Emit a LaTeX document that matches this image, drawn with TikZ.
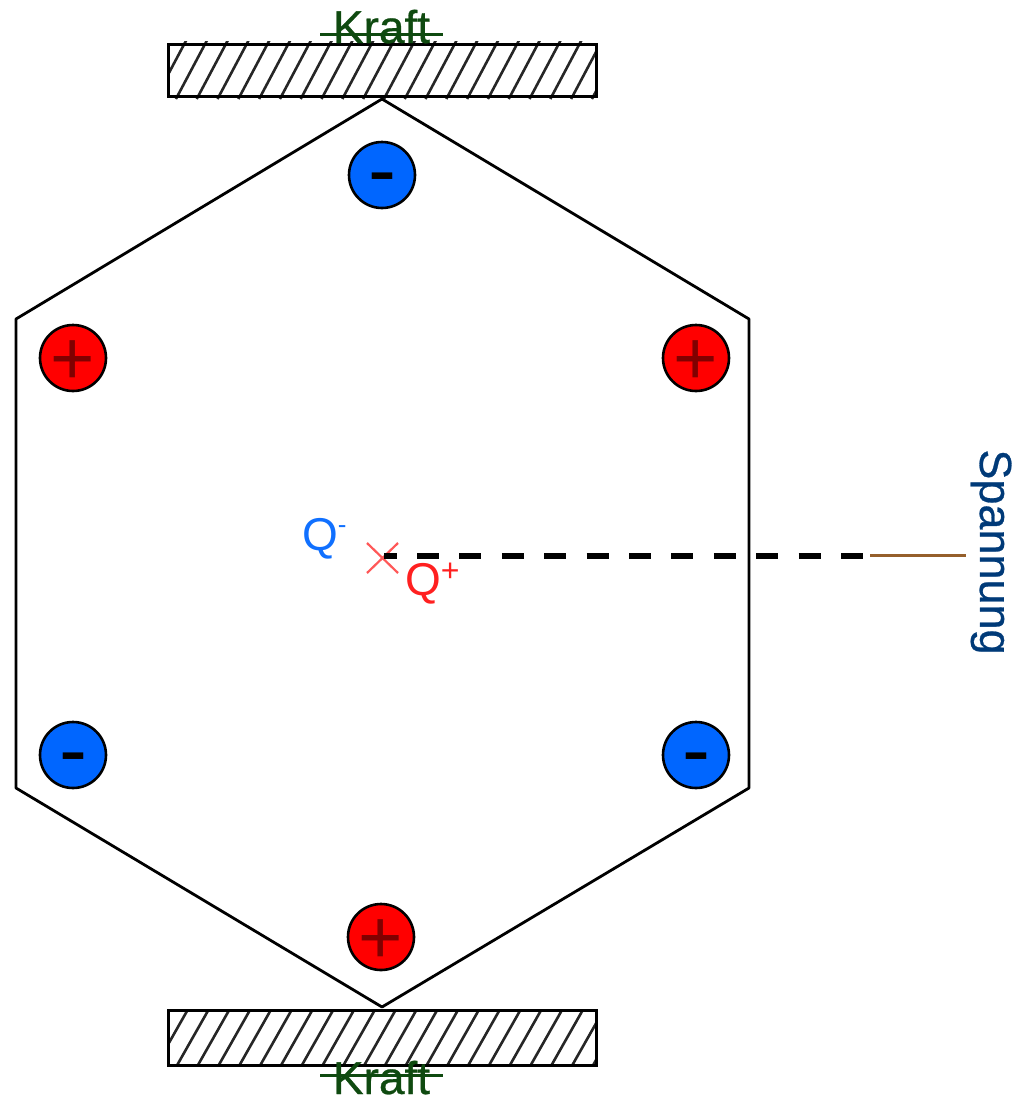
\documentclass[tikz,border=0pt]{standalone}
\usepackage{fontspec}
\newfontfamily\ls{Liberation Sans}
\newfontfamily\lsh[FakeBold=0.6]{Liberation Sans}
\definecolor{kraftc}{HTML}{0F4A10}
\definecolor{spanc}{HTML}{003A78}
\definecolor{brownc}{HTML}{955F2B}
\definecolor{qblue}{HTML}{1070FF}
\definecolor{qred}{HTML}{FF2020}
\definecolor{cblue}{HTML}{0066FF}
\definecolor{cred}{HTML}{FF0000}
\definecolor{pdark}{HTML}{800000}
\newcommand{\minusmark}{\raisebox{-.277em}[.1em][.1em]{-}}
\newcommand{\plusmark}{\raisebox{-.347em}[.1em][.1em]{+}}
\tikzset{
  x=1pt,y=-1pt,
  charge/.style={circle,draw=black,line width=2.6pt,minimum size=66pt,inner sep=0pt},
  poschg/.style={charge,fill=cred,text=pdark,font=\ls\fontsize{76}{76}\selectfont},
  negchg/.style={charge,fill=cblue,text=black,font=\ls\fontsize{84}{84}\selectfont},
  bar/.style={draw=black,line width=3pt,rectangle},
  hatchline/.style={black!85,line width=2.6pt},
  kraftt/.style={text=kraftc,font=\lsh\fontsize{46}{46}\selectfont,inner sep=0pt},
  strike/.style={draw=kraftc,line width=3pt},
  hex/.style={draw=black,line width=2.8pt,line join=round},
  qlab/.style={font=\ls\fontsize{46}{46}\selectfont,inner sep=0pt},
}
\begin{document}
\begin{tikzpicture}
\useasboundingbox (0,0) rectangle (1018,1101);
% hatching
\begin{scope}
\clip (168,41) rectangle (596,100);
\foreach \k in {-2,...,20}
  \draw[hatchline] (\k*20.8+196.7,99) -- (\k*20.8+228,40);
\end{scope}
\begin{scope}
\clip (168,1007) rectangle (596,1068);
\foreach \k in {-2,...,20}
  \draw[hatchline] (\k*20.8+198,1065) -- (\k*20.8+229.2,1010);
\end{scope}
\draw[bar] (168,44.5) rectangle (596,96.5);
\draw[bar] (168,1010) rectangle (596,1065);
% hexagon
\draw[hex] (382,99) -- (749,319) -- (749,788) -- (382,1007) -- (16,788) -- (16,319) -- cycle;
% charges
\node[negchg] (c1) at (382,175) {\minusmark};
\node[poschg] (c2) at (73,358) {\plusmark};
\node[poschg] (c3) at (696,358) {\plusmark};
\node[negchg] (c4) at (73,755) {\minusmark};
\node[negchg] (c5) at (696,755) {\minusmark};
\node[poschg] (c6) at (381,937) {\plusmark};
% force labels
\node[kraftt,anchor=base] (k1) at (381.5,43) {Kraft};
\coordinate (k1l) at (320,34);
\coordinate (k1r) at (443,34);
\draw[strike] (k1l) -- (k1r);
\node[kraftt,anchor=base] (k2) at (381.5,1094) {Kraft};
\coordinate (k2l) at (320,1075);
\coordinate (k2r) at (443,1075);
\draw[strike] (k2l) -- (k2r);
% centre
\node[qlab,text=qblue,anchor=base west] (qm) at (302,550) {Q\raisebox{.36em}{\fontsize{26}{26}\selectfont -}};
\node[qlab,text=qred,anchor=base west] (qp) at (405,595) {Q\raisebox{.3em}{\fontsize{32}{32}\selectfont +}};
\coordinate (xc) at (382,558);
\draw[qred!75,line width=2.2pt] (367,543) -- (398,573);
\draw[qred!75,line width=2.2pt] (398,543) -- (367,573);
% voltage
\coordinate (d0) at (384,555.5);
\coordinate (d1) at (868,555.5);
\draw[black,line width=6pt,dash pattern=on 22pt off 20.4pt,dash phase=9.4pt] (d0) -- (d1);
\coordinate (b0) at (870,555);
\coordinate (b1) at (966,555);
\draw[brownc,line width=3pt] (b0) -- (b1);
\node[text=spanc,font=\lsh\fontsize{45}{45}\selectfont,inner sep=0pt,rotate=-90,anchor=base] (sp) at (980,552) {Spannung};
\end{tikzpicture}
\end{document}
